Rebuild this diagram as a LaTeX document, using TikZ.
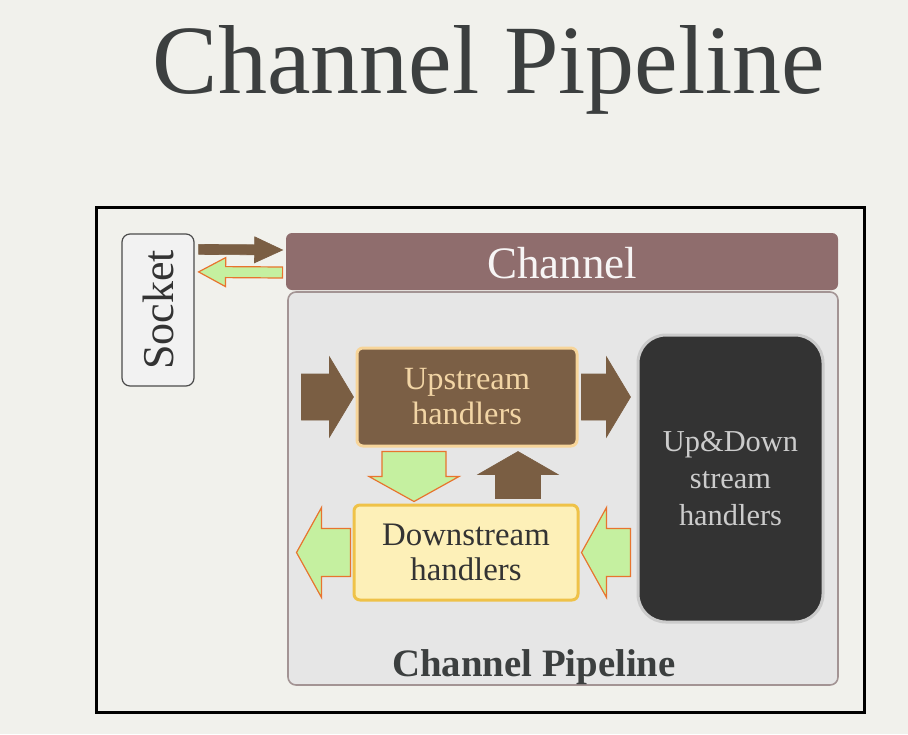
\documentclass[tikz,border=0pt]{standalone}
\usepackage{fontspec}
\setmainfont{Liberation Serif}
\usetikzlibrary{calc,positioning}

\definecolor{bgcol}{HTML}{F1F1EC}
\definecolor{titlecol}{HTML}{3C3F3F}
\definecolor{chancol}{HTML}{8F6D6D}
\definecolor{pipecol}{HTML}{E6E6E6}
\definecolor{pipeedge}{HTML}{A39494}
\definecolor{upcol}{HTML}{7B5F45}
\definecolor{upedge}{HTML}{F7D59A}
\definecolor{uptext}{HTML}{F2D5A5}
\definecolor{downcol}{HTML}{FDF0B8}
\definecolor{downedge}{HTML}{EFC248}
\definecolor{udcol}{HTML}{333333}
\definecolor{udedge}{HTML}{CBCBCB}
\definecolor{arrowbrown}{HTML}{7A5E43}
\definecolor{arrowgreen}{HTML}{C5F0A0}
\definecolor{arrowedge}{HTML}{E8742E}

% fat arrow: style, start, tip, shaft half width, head half width, head length
\newcommand\blockarrow[6]{%
  \coordinate (ba-s) at (#2);
  \coordinate (ba-e) at (#3);
  \coordinate (ba-h) at ($(ba-e)!#6!(ba-s)$);
  \filldraw[#1] ($(ba-s)!#4!90:(ba-e)$) -- ($(ba-h)!#4!90:(ba-e)$) -- ($(ba-h)!#5!90:(ba-e)$) -- (ba-e)
    -- ($(ba-h)!#5!-90:(ba-e)$) -- ($(ba-h)!#4!-90:(ba-e)$) -- ($(ba-s)!#4!-90:(ba-e)$) -- cycle;}

\tikzset{
  handler/.style={rectangle, rounded corners=3pt, line width=1.5pt, align=center, inner sep=0pt},
  brownarrow/.style={fill=arrowbrown, draw=arrowbrown, line width=0.3pt},
  greenarrow/.style={fill=arrowgreen, draw=arrowedge, line width=0.6pt, line join=miter}
}

\begin{document}
\begin{tikzpicture}[x=0.5pt, y=-0.5pt]
    \useasboundingbox[fill=bgcol] (0,0) rectangle (908,734);

    % Title
    \node[anchor=base, text=titlecol, font=\fontsize{49}{55}\selectfont] (title) at (489,93) {Channel Pipeline};

    % Frame
    \draw[line width=1.5pt] (96,207) rectangle (864,712);

    % Socket and channel
    \node[draw=black!70, fill=black!5, rounded corners=4pt, line width=0.6pt, rotate=90,
          minimum width=76pt, minimum height=36pt, inner sep=0pt,
          font=\fontsize{22}{24}\selectfont, text=black!80] (socket) at (158,310) {Socket};
    \node[fill=chancol, rounded corners=3pt, minimum width=276pt, minimum height=28.5pt, inner sep=0pt] (channel) at (562,261.5) {};
    \node[anchor=base, text=white!93!chancol, font=\fontsize{22.5}{25}\selectfont] (chantext) at (562,278) {Channel};

    % Pipeline
    \node[fill=pipecol, draw=pipeedge, line width=0.8pt, rounded corners=4pt, minimum width=275pt, minimum height=196.5pt] (pipeline) at (563,488.5) {};
    \node[anchor=base, text=titlecol, font=\bfseries\fontsize{19.4}{22}\selectfont] (pipetext) at ($(pipeline.south)+(-29,-9)$) {Channel Pipeline};

    % Handlers
    \node[handler, fill=upcol, draw=upedge, text=uptext, minimum width=110pt, minimum height=49pt,
          font=\fontsize{16.2}{17.5}\selectfont] (up) at (467,397) {Upstream\\handlers};
    \node[handler, fill=downcol, draw=downedge, text=black!80, minimum width=112pt, minimum height=47.5pt,
          font=\fontsize{16.4}{17.5}\selectfont] (down) at (466,552.5) {Downstream\\handlers};
    \node[handler, fill=udcol, draw=udedge, text=white!80!black, rounded corners=14pt, minimum width=92.5pt, minimum height=143.5pt,
          font=\fontsize{15.2}{18.5}\selectfont] (updown) at (730.5,478.5) {Up\&Down\\stream\\handlers};

    % Socket arrows (socket is turned, so its south east is the top right corner)
    \blockarrow{brownarrow}{$(socket.south east)+(4,16)$}{$(channel.west)+(-3,-11.5)$}{2.5pt}{6.5pt}{14pt}
    \blockarrow{greenarrow}{$(channel.west)+(-3,11)$}{$(socket.south east)+(4,38.5)$}{2.75pt}{7.25pt}{13.5pt}

    % Upstream arrows
    \blockarrow{brownarrow}{$(up.west)+(-54,0)$}{$(up.west)+(-2,0)$}{11.5pt}{20pt}{12pt}
    \blockarrow{brownarrow}{$(up.east)+(3,0)$}{$(updown.west |- up.east)+(-6,0)$}{11.5pt}{20pt}{12pt}
    \blockarrow{brownarrow}{$(down.north)+(52,-5)$}{$(up.south)+(51,4)$}{11.25pt}{20pt}{11.5pt}

    % Downstream arrows
    \blockarrow{greenarrow}{$(up.south)+(-53,4)$}{$(down.north)+(-52,-2)$}{16pt}{22.5pt}{12.5pt}
    \blockarrow{greenarrow}{$(updown.west |- down.east)+(-6,0)$}{$(down.east)+(2,0)$}{12pt}{22.5pt}{12.5pt}
    \blockarrow{greenarrow}{$(down.west)+(-2,0)$}{$(down.west)+(-56,0)$}{12pt}{22.5pt}{12.5pt}
\end{tikzpicture}
\end{document}
